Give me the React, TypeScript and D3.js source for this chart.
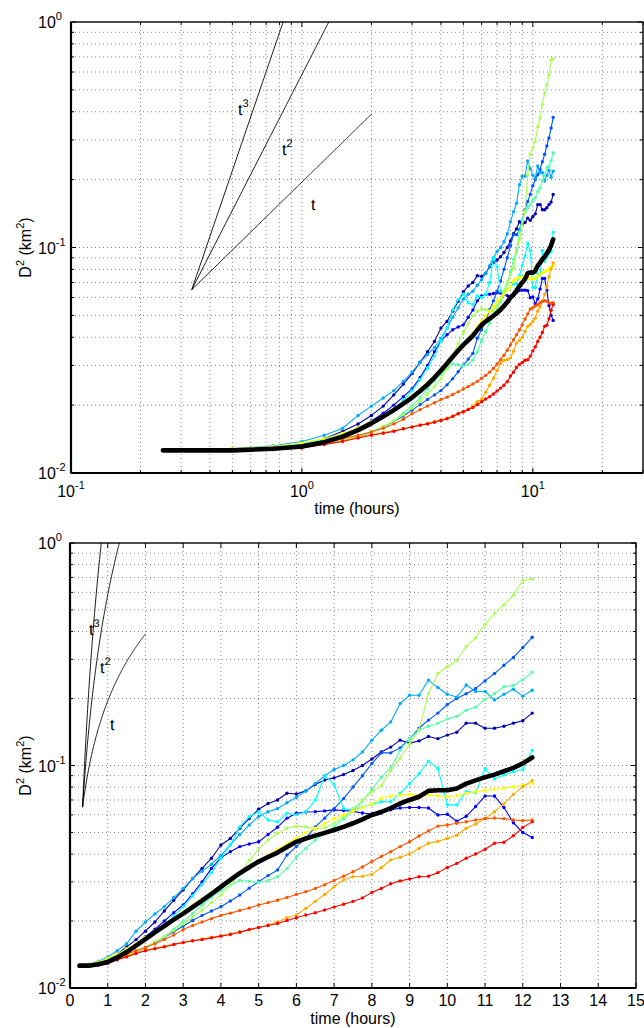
import React from 'react';
import * as d3 from 'd3';

// ---------- DATA ----------
const times = [0.25,0.5,0.75,1,1.25,1.5,1.75,2,2.25,2.5,2.75,3,3.25,3.5,3.75,4,4.25,4.5,4.75,5,5.25,5.5,5.75,6,6.25,6.5,6.75,7,7.25,7.5,7.75,8,8.25,8.5,8.75,9,9.25,9.5,9.75,10,10.25,10.5,10.75,11,11.25,11.5,11.75,12,12.25];

const darkBlue = [.0126,.0127,.0129,.0134,.0142,.0153,.0165,.0180,.0198,.0222,.0248,.0276,.0310,.0345,.0383,.0439,.0470,.0522,.0578,.0636,.0675,.0700,.0750,.0745,.0769,.0822,.0860,.0880,.0910,.0950,.1000,.1070,.1150,.1210,.1300,.1260,.1290,.1350,.1320,.1370,.1410,.1550,.1550,.1470,.1470,.1500,.1550,.1590,.1720];
const blue = [.0126,.0127,.0129,.0133,.0140,.0148,.0158,.0170,.0184,.0200,.0218,.0236,.0265,.0300,.0345,.0385,.0410,.0432,.0444,.0454,.0490,.0528,.0580,.0610,.0618,.0620,.0625,.0632,.0628,.0622,.0612,.0605,.0614,.0632,.0644,.0647,.0647,.0644,.0599,.0604,.0562,.0591,.0654,.0729,.0729,.0647,.0553,.0500,.0475];
const midBlue = [.0126,.0126,.0127,.0130,.0134,.0139,.0145,.0152,.0160,.0169,.0179,.0190,.0201,.0212,.0222,.0232,.0246,.0262,.0281,.0301,.0320,.0339,.0396,.0432,.0470,.0530,.0580,.0640,.0710,.0800,.0900,.1020,.1140,.1140,.1200,.1320,.1470,.1600,.1720,.1880,.2000,.2100,.2220,.2400,.2590,.2820,.3060,.3390,.3770];
const skyBlue = [.0126,.0128,.0132,.0138,.0147,.0158,.0180,.0198,.0215,.0232,.0255,.0280,.0310,.0335,.0360,.0395,.0440,.0490,.0540,.0590,.0620,.0640,.0680,.0720,.0770,.0830,.0900,.0960,.1000,.1060,.1150,.1300,.1440,.1570,.1900,.2070,.2070,.2420,.2240,.2090,.2030,.2300,.2150,.2150,.1970,.2090,.2200,.2050,.2180];
const cyan = [.0126,.0127,.0130,.0135,.0141,.0148,.0156,.0166,.0178,.0192,.0210,.0232,.0260,.0292,.0330,.0383,.0439,.0530,.0588,.0620,.0569,.0558,.0610,.0600,.0620,.0700,.0900,.0820,.0640,.0630,.0650,.0670,.0688,.0688,.0750,.0830,.0918,.1046,.0970,.0665,.0665,.0763,.0755,.0970,.0869,.0906,.0938,.0962,.1170];
const greenCyan = [.0126,.0126,.0128,.0131,.0135,.0140,.0145,.0152,.0160,.0170,.0184,.0199,.0216,.0236,.0256,.0274,.0290,.0305,.0302,.0298,.0304,.0316,.0345,.0387,.0424,.0462,.0496,.0530,.0575,.0625,.0690,.0780,.0886,.0975,.1170,.1320,.1440,.1500,.1550,.1620,.1660,.1770,.1830,.1980,.2100,.2260,.2290,.2430,.2630];
const yellowGreen = [.0126,.0126,.0128,.0131,.0135,.0140,.0146,.0153,.0161,.0170,.0181,.0194,.0208,.0224,.0242,.0262,.0290,.0330,.0375,.0420,.0462,.0496,.0522,.0534,.0530,.0518,.0525,.0550,.0590,.0640,.0700,.0760,.0810,.0950,.1080,.1250,.1450,.2100,.2590,.2780,.2970,.3430,.3750,.4310,.4830,.5270,.5830,.6780,.6880];
const yellow = [.0126,.0128,.0131,.0136,.0142,.0150,.0159,.0169,.0180,.0191,.0204,.0220,.0236,.0252,.0269,.0288,.0308,.0329,.0351,.0374,.0396,.0420,.0445,.0472,.0498,.0523,.0548,.0578,.0600,.0623,.0648,.0672,.0713,.0729,.0736,.0741,.0736,.0736,.0729,.0724,.0731,.0748,.0762,.0774,.0782,.0790,.0802,.0815,.0830];
const orange = [.0126,.0127,.0128,.0131,.0135,.0139,.0144,.0148,.0151,.0154,.0157,.0160,.0163,.0166,.0169,.0172,.0175,.0179,.0183,.0187,.0192,.0198,.0207,.0213,.0228,.0245,.0263,.0285,.0306,.0316,.0318,.0324,.0347,.0376,.0387,.0400,.0424,.0447,.0456,.0470,.0486,.0522,.0546,.0578,.0620,.0672,.0742,.0802,.0855];
const darkOrange = [.0126,.0127,.0129,.0132,.0137,.0142,.0147,.0152,.0158,.0165,.0173,.0183,.0191,.0198,.0205,.0212,.0217,.0223,.0229,.0236,.0242,.0248,.0255,.0263,.0271,.0280,.0291,.0304,.0318,.0333,.0350,.0370,.0390,.0410,.0432,.0454,.0482,.0508,.0534,.0540,.0550,.0559,.0569,.0577,.0581,.0577,.0569,.0565,.0569];
const red = [.0126,.0126,.0127,.0129,.0134,.0138,.0143,.0147,.0150,.0153,.0157,.0160,.0163,.0165,.0168,.0171,.0174,.0178,.0183,.0187,.0191,.0195,.0201,.0207,.0213,.0218,.0224,.0231,.0238,.0245,.0254,.0269,.0280,.0294,.0303,.0309,.0316,.0318,.0330,.0348,.0363,.0383,.0400,.0420,.0447,.0452,.0483,.0527,.0558];
const meanSeries = [.0126,.0126,.0128,.0131,.0137,.0145,.0155,.0166,.0178,.0190,.0203,.0216,.0231,.0247,.0265,.0285,.0306,.0328,.0349,.0370,.0388,.0406,.0430,.0454,.0470,.0484,.0498,.0513,.0530,.0550,.0573,.0599,.0618,.0644,.0675,.0700,.0724,.0769,.0774,.0774,.0788,.0829,.0857,.0886,.0910,.0942,.0975,.1022,.1087];

const seriesList = [darkBlue, blue, midBlue, skyBlue, cyan, greenCyan, yellowGreen, yellow, orange, darkOrange, red];
const seriesColors = ['#0000aa','#0000ff','#0055ff','#00aaff','#00ffff','#55ffaa','#aaff55','#ffff00','#ffaa00','#ff5500','#ff0000'];

const powerExponents = [1, 2, 3];
const powerLabels = ['t', 't', 't'];
const powerLabelExp = ['', '2', '3'];
const powerStartT = 1 / 3;
const powerStartV = 0.065;
const powerEndT = 2;

const logXTickLabels = [{ v: 0.1, e: '-1' }, { v: 1, e: '0' }, { v: 10, e: '1' }];
const logYTickLabels = [{ v: 0.01, e: '-2' }, { v: 0.1, e: '-1' }, { v: 1, e: '0' }];
const linXTicks = [0,1,2,3,4,5,6,7,8,9,10,11,12,13,14,15];

// ---------- LAYOUT ----------
const W = 644, H = 1028;
const TOP = { x0: 71, x1: 643, y0: 22, y1: 473 };
const BOT = { x0: 70, x1: 636, y0: 543, y1: 988 };
const FONT = '"Liberation Sans", Arial, Helvetica, sans-serif';

function logMinor(lo: number, hi: number) {
  const out: number[] = [];
  for (let d = lo; d < hi; d *= 10) {
    for (let k = 2; k <= 9; k++) {
      const v = k * d;
      if (v < hi * 1.0001) out.push(+v.toPrecision(6));
    }
  }
  return out;
}

function Panel({ kind }: { kind: 'top' | 'bot' }) {
  const isLog = kind === 'top';
  const b = isLog ? TOP : BOT;
  const x: any = isLog
    ? d3.scaleLog().domain([0.1, 30]).range([b.x0, b.x1])
    : d3.scaleLinear().domain([0, 15]).range([b.x0, b.x1]);
  const y = d3.scaleLog().domain([0.01, 1]).range([b.y1, b.y0]);

  const xMajor = isLog ? [0.1, 1, 10] : linXTicks;
  const xMinor = isLog ? logMinor(0.1, 30) : [];
  const yMajor = [0.01, 0.1, 1];
  const yMinor = logMinor(0.01, 1).filter(v => v < 1);

  const line = d3.line<[number, number]>().x(d => x(d[0])).y(d => y(d[1]));
  const clipId = 'clip-' + kind;

  const gridX = [...xMajor, ...xMinor].filter(v => x(v) > b.x0 + 0.5 && x(v) < b.x1 - 0.5);
  const gridY = [...yMajor, ...yMinor].filter(v => y(v) > b.y0 + 0.5 && y(v) < b.y1 - 0.5);

  const powerSamples = d3.range(0, 201).map(i => powerStartT + (powerEndT - powerStartT) * i / 200);

  const labelPos = isLog
    ? [{ x: 311, y: 210 }, { x: 282, y: 155 }, { x: 238, y: 115 }]
    : [{ x: 110, y: 730 }, { x: 100, y: 673 }, { x: 89, y: 635 }];

  const cy = (b.y0 + b.y1) / 2;
  const cx = (b.x0 + b.x1) / 2;

  return (
    <g fontFamily={FONT}>
      <defs>
        <clipPath id={clipId}>
          <rect x={b.x0} y={b.y0} width={b.x1 - b.x0} height={b.y1 - b.y0} />
        </clipPath>
      </defs>
      <rect x={b.x0} y={b.y0} width={b.x1 - b.x0} height={b.y1 - b.y0} fill="#fff" />
      {/* grid */}
      <g stroke="#333" strokeWidth={0.8} strokeDasharray="1,3" opacity={0.75}>
        {gridX.map((v, i) => (
          <line key={'gx' + i} x1={x(v)} x2={x(v)} y1={b.y0} y2={b.y1} />
        ))}
        {gridY.map((v, i) => (
          <line key={'gy' + i} x1={b.x0} x2={b.x1} y1={y(v)} y2={y(v)} />
        ))}
      </g>
      {/* power-law guides */}
      <g clipPath={`url(#${clipId})`} fill="none" stroke="#000" strokeWidth={0.9}>
        {powerExponents.map((p, i) => (
          <path key={'pw' + i}
            d={line(powerSamples.map(t => [t, powerStartV * Math.pow(t / powerStartT, p)] as [number, number])) || ''} />
        ))}
      </g>
      {powerExponents.map((p, i) => (
        <text key={'pl' + i} x={labelPos[i].x} y={labelPos[i].y} fontSize={16}
          style={{ fill: '#000' }} textRendering="geometricPrecision">
          {powerLabels[i]}
          {powerLabelExp[i] && <tspan dy={-8} fontSize={11}>{powerLabelExp[i]}</tspan>}
        </text>
      ))}
      {/* data */}
      <g clipPath={`url(#${clipId})`}>
        {seriesList.map((s, si) => {
          const pts = s.map((v, i) => [times[i], v] as [number, number]);
          return (
            <g key={'s' + si}>
              <path d={line(pts) || ''} fill="none" stroke={seriesColors[si]} strokeWidth={1.1} strokeLinejoin="round" />
              {pts.map((d, i) => (
                <circle key={i} cx={x(d[0])} cy={y(d[1])} r={1.7} fill={seriesColors[si]} />
              ))}
            </g>
          );
        })}
        <path d={line(meanSeries.map((v, i) => [times[i], v] as [number, number])) || ''}
          fill="none" stroke="#000" strokeWidth={4.6} strokeLinejoin="round" strokeLinecap="round" />
      </g>
      {/* box */}
      <rect x={b.x0} y={b.y0} width={b.x1 - b.x0} height={b.y1 - b.y0} fill="none" stroke="#000" strokeWidth={1.4} />
      <line x1={b.x0} x2={b.x0} y1={b.y0} y2={b.y1} stroke="#000" strokeWidth={2.2} />
      <line x1={b.x0} x2={b.x1} y1={b.y1} y2={b.y1} stroke="#000" strokeWidth={2} />
      {/* ticks */}
      <g stroke="#000" strokeWidth={1}>
        {xMajor.map((v, i) => (
          <g key={'xt' + i}>
            <line x1={x(v)} x2={x(v)} y1={b.y1} y2={b.y1 - 5} />
            <line x1={x(v)} x2={x(v)} y1={b.y0} y2={b.y0 + 5} />
          </g>
        ))}
        {xMinor.map((v, i) => (
          <g key={'xm' + i}>
            <line x1={x(v)} x2={x(v)} y1={b.y1} y2={b.y1 - 3} />
            <line x1={x(v)} x2={x(v)} y1={b.y0} y2={b.y0 + 3} />
          </g>
        ))}
        {yMajor.map((v, i) => (
          <g key={'yt' + i}>
            <line x1={b.x0} x2={b.x0 + 5} y1={y(v)} y2={y(v)} />
            <line x1={b.x1} x2={b.x1 - 5} y1={y(v)} y2={y(v)} />
          </g>
        ))}
        {yMinor.map((v, i) => (
          <g key={'ym' + i}>
            <line x1={b.x0} x2={b.x0 + 3} y1={y(v)} y2={y(v)} />
            <line x1={b.x1} x2={b.x1 - 3} y1={y(v)} y2={y(v)} />
          </g>
        ))}
      </g>
      {/* tick labels */}
      <g fontSize={16} style={{ fill: '#000' }}>
        {isLog
          ? logXTickLabels.map((t, i) => (
            <text key={'xl' + i} x={x(t.v)} y={b.y1 + 24} textAnchor="middle">
              10<tspan dy={-8} fontSize={11}>{t.e}</tspan>
            </text>
          ))
          : linXTicks.map((t, i) => (
            <text key={'xl' + i} x={x(t)} y={b.y1 + 18} textAnchor="middle">{String(t)}</text>
          ))}
        {logYTickLabels.map((t, i) => (
          <text key={'yl' + i} x={38} y={y(t.v) + 6}>
            10<tspan dy={-8} fontSize={11}>{t.e}</tspan>
          </text>
        ))}
        <text x={cx} y={isLog ? 514 : 1024} textAnchor="middle">time (hours)</text>
        <text transform={`translate(30.5,${cy}) rotate(-90)`} textAnchor="middle">
          D<tspan dy={-7} fontSize={11}>2</tspan><tspan dy={7}> (km</tspan><tspan dy={-7} fontSize={11}>2</tspan><tspan dy={7}>)</tspan>
        </text>
      </g>
    </g>
  );
}

export default function App() {
  return (
    <svg width={W} height={H} viewBox={`0 0 ${W} ${H}`}
      style={{ position: 'absolute', left: 0, top: 0, background: '#fff' }}>
      <rect x={0} y={0} width={W} height={H} fill="#fff" />
      <Panel kind="top" />
      <Panel kind="bot" />
    </svg>
  );
}
